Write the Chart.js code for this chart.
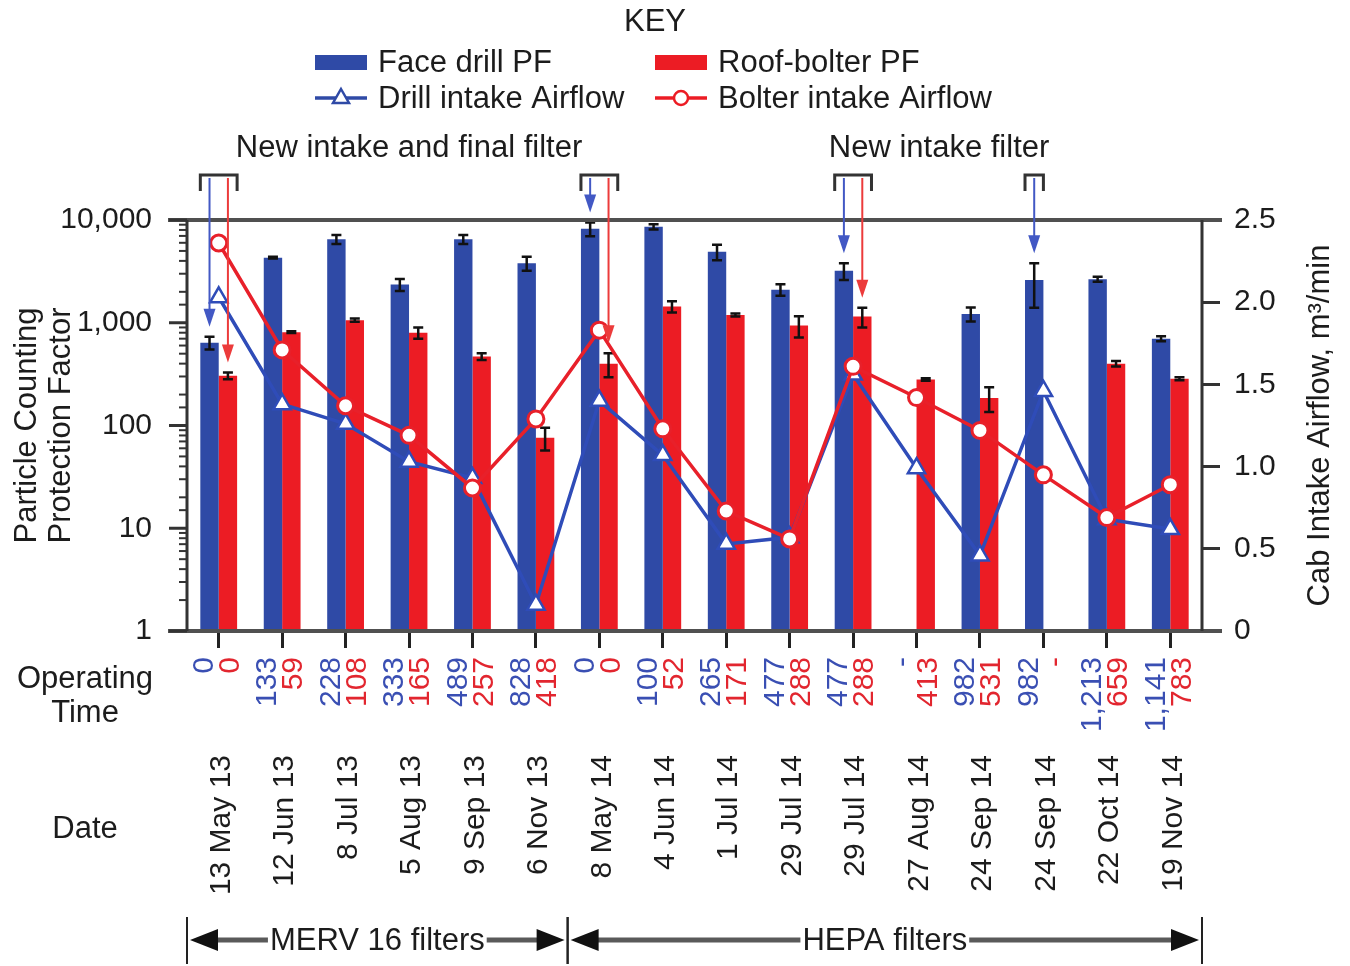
<!DOCTYPE html>
<html lang="en">
<head>
  <meta charset="UTF-8">
  <title>Particle Counting Protection Factor</title>
  <script src="https://cdn.jsdelivr.net/npm/chart.js"></script>
  <style>
    html, body { margin: 0; padding: 0; background: #fff; }
    #wrap { width: 1350px; height: 966px; position: relative; }
  </style>
</head>
<body>
  <div id="wrap"><canvas id="grafico"></canvas></div>

  <script>
    // Sampling dates and operating hours (drill / bolter)
    const dates = ['13 May 13', '12 Jun 13', '8 Jul 13', '5 Aug 13', '9 Sep 13', '6 Nov 13',
      '8 May 14', '4 Jun 14', '1 Jul 14', '29 Jul 14', '29 Jul 14', '27 Aug 14',
      '24 Sep 14', '24 Sep 14', '22 Oct 14', '19 Nov 14'];
    const drillHours = ['0', '133', '228', '333', '489', '828', '0', '100', '265', '477', '477', '-', '982', '982', '1,213', '1,141'];
    const bolterHours = ['0', '59', '108', '165', '257', '418', '0', '52', '171', '288', '288', '413', '531', '-', '659', '783'];

    // Protection factors (left, log axis) and their error bars
    const drillPF = [640, 4300, 6500, 2350, 6500, 3800, 8200, 8600, 4900, 2100, 3200, null, 1220, 2600, 2650, 700];
    const bolterPF = [305, 810, 1060, 800, 470, 76, 400, 1440, 1190, 940, 1150, 280, 185, null, 400, 285];
    const drillErr = [90, 80, 650, 310, 650, 600, 1250, 500, 850, 270, 600, null, 190, 1200, 150, 40];
    const bolterErr = [23, 15, 40, 100, 35, 19, 105, 180, 40, 220, 250, 8, 50, null, 25, 10];

    // Cab intake airflow, m3/min (right axis)
    const drillAirflow = [2.03, 1.38, 1.26, 1.03, 0.93, 0.16, 1.40, 1.07, 0.53, 0.57, 1.56, 0.99, 0.46, 1.46, 0.68, 0.62];
    const bolterAirflow = [2.36, 1.71, 1.37, 1.19, 0.87, 1.29, 1.83, 1.23, 0.73, 0.56, 1.61, 1.42, 1.22, 0.95, 0.69, 0.89];

    // Filter change annotations
    const drillArrows = [0, 6, 10, 13];
    const bolterArrows = [0, 6, 10];
    const notes = [
      { text: 'New intake and final filter', from: 0, to: 6 },
      { text: 'New intake filter', from: 10, to: 13 }
    ];
    const filterBands = [
      { text: 'MERV 16 filters', from: 0, to: 5 },
      { text: 'HEPA filters', from: 6, to: 15 }
    ];

    const FONT = '"Liberation Sans", Arial, Helvetica, sans-serif';
    const BLUE = '#2f4aa6';
    const RED = '#ec1c24';
    const INK = '#1c1c1c';

    function arrowDown(ctx, x, y0, y1, color) {
      ctx.strokeStyle = color;
      ctx.fillStyle = color;
      ctx.lineWidth = 2;
      ctx.beginPath();
      ctx.moveTo(x, y0);
      ctx.lineTo(x, y1 - 14);
      ctx.stroke();
      ctx.beginPath();
      ctx.moveTo(x - 6, y1 - 18);
      ctx.lineTo(x + 6, y1 - 18);
      ctx.lineTo(x, y1);
      ctx.closePath();
      ctx.fill();
    }

    function arrowHead(ctx, x, y, dir) {
      ctx.fillStyle = '#111';
      ctx.beginPath();
      ctx.moveTo(x, y);
      ctx.lineTo(x + dir * 28, y - 11);
      ctx.lineTo(x + dir * 28, y + 11);
      ctx.closePath();
      ctx.fill();
    }

    const extras = {
      id: 'extras',
      // error bars right after each bar dataset, before the lines
      afterDatasetDraw(chart, args) {
        const ds = chart.data.datasets[args.index];
        if (!ds.errors) return;
        const ctx = chart.ctx;
        const y = chart.scales.y;
        ctx.save();
        ctx.strokeStyle = '#111';
        ctx.lineWidth = 2.5;
        args.meta.data.forEach((bar, i) => {
          const v = ds.data[i], e = ds.errors[i];
          if (v == null || e == null) return;
          const yt = y.getPixelForValue(v + e);
          const yb = y.getPixelForValue(v - e);
          ctx.beginPath();
          ctx.moveTo(bar.x, yt); ctx.lineTo(bar.x, yb);
          ctx.moveTo(bar.x - 5, yt); ctx.lineTo(bar.x + 5, yt);
          ctx.moveTo(bar.x - 5, yb); ctx.lineTo(bar.x + 5, yb);
          ctx.stroke();
        });
        ctx.restore();
      },
      afterDraw(chart) {
        const ctx = chart.ctx;
        const area = chart.chartArea;
        const x = chart.scales.x;
        const y = chart.scales.y;
        const drillBars = chart.getDatasetMeta(0).data;
        const bolterBars = chart.getDatasetMeta(1).data;
        ctx.save();

        // frame: top / bottom lines, both axes
        ctx.strokeStyle = '#505050';
        ctx.lineWidth = 4;
        ctx.beginPath();
        ctx.moveTo(area.left - 19, area.top); ctx.lineTo(area.right + 20, area.top);
        ctx.moveTo(area.left - 19, area.bottom); ctx.lineTo(area.right + 20, area.bottom);
        ctx.stroke();
        ctx.strokeStyle = '#333';
        ctx.lineWidth = 3;
        ctx.beginPath();
        ctx.moveTo(area.left, area.top); ctx.lineTo(area.left, area.bottom);
        ctx.moveTo(area.right, area.top); ctx.lineTo(area.right, area.bottom);
        ctx.stroke();

        // log axis ticks (major long, minor short)
        y.ticks.forEach(t => {
          const py = y.getPixelForValue(t.value);
          const major = Math.abs(Math.log10(t.value) % 1) < 1e-9;
          ctx.lineWidth = major ? 3 : 2;
          ctx.beginPath();
          ctx.moveTo(area.left - (major ? 18 : 8), py);
          ctx.lineTo(area.left, py);
          ctx.stroke();
        });

        // right axis title (reads bottom to top)
        ctx.fillStyle = INK;
        ctx.font = `31px ${FONT}`;
        ctx.textAlign = 'center';
        ctx.textBaseline = 'middle';
        ctx.save();
        ctx.translate(1320, (area.top + area.bottom) / 2);
        ctx.rotate(-Math.PI / 2);
        ctx.fillText('Cab Intake Airflow, m\u00b3/min', 0, 0);
        ctx.restore();

        // legend
        ctx.fillText('KEY', 655, 22);
        ctx.textAlign = 'left';
        ctx.fillStyle = BLUE; ctx.fillRect(315, 55, 52, 15);
        ctx.fillStyle = RED; ctx.fillRect(655, 55, 52, 15);
        ctx.lineWidth = 3.5;
        ctx.strokeStyle = BLUE;
        ctx.beginPath(); ctx.moveTo(315, 98); ctx.lineTo(367, 98); ctx.stroke();
        ctx.strokeStyle = RED;
        ctx.beginPath(); ctx.moveTo(655, 98); ctx.lineTo(707, 98); ctx.stroke();
        ctx.fillStyle = '#fff';
        ctx.lineWidth = 2.5;
        ctx.strokeStyle = BLUE;
        ctx.beginPath(); ctx.moveTo(341, 89); ctx.lineTo(349, 103); ctx.lineTo(333, 103); ctx.closePath();
        ctx.fill(); ctx.stroke();
        ctx.strokeStyle = RED;
        ctx.beginPath(); ctx.arc(681, 98, 7, 0, Math.PI * 2); ctx.fill(); ctx.stroke();
        ctx.fillStyle = INK;
        ctx.fillText(chart.data.datasets[0].label, 378, 63);
        ctx.fillText(chart.data.datasets[1].label, 718, 63);
        ctx.fillText(chart.data.datasets[2].label, 378, 99);
        ctx.fillText(chart.data.datasets[3].label, 718, 99);

        // brackets + arrows for filter changes
        const groups = [...new Set([...drillArrows, ...bolterArrows])];
        const bracketSpan = {};
        groups.forEach(i => {
          const hasD = drillArrows.includes(i), hasB = bolterArrows.includes(i);
          const l = hasD ? drillBars[i] : bolterBars[i];
          const r = hasB ? bolterBars[i] : drillBars[i];
          const x0 = l.x - l.width / 2, x1 = r.x + r.width / 2;
          bracketSpan[i] = [x0, x1];
          ctx.strokeStyle = '#333';
          ctx.lineWidth = 3;
          ctx.beginPath();
          ctx.moveTo(x0, 191); ctx.lineTo(x0, 175); ctx.lineTo(x1, 175); ctx.lineTo(x1, 191);
          ctx.stroke();
        });
        drillArrows.forEach(i => {
          const tip = y.getPixelForValue(drillPF[i] + drillErr[i]) - 10;
          arrowDown(ctx, drillBars[i].x, 178, tip, '#4258c4');
        });
        bolterArrows.forEach(i => {
          const tip = y.getPixelForValue(bolterPF[i] + bolterErr[i]) - 10;
          arrowDown(ctx, bolterBars[i].x, 178, tip, '#ec3b3b');
        });
        ctx.fillStyle = INK;
        ctx.textAlign = 'center';
        notes.forEach(n => {
          const cx = (bracketSpan[n.from][0] + bracketSpan[n.to][1]) / 2;
          ctx.fillText(n.text, cx, 148);
        });

        // operating time and date labels (rotated)
        ctx.font = `30px ${FONT}`;
        ctx.textAlign = 'right';
        dates.forEach((d, i) => {
          const px = x.getPixelForValue(i);
          [[drillHours[i], px - 14, 657, '#3a4fb3'], [bolterHours[i], px + 12, 657, '#e2262f'], [d, px + 3, 755, INK]]
            .forEach(([txt, tx, ty, col]) => {
              ctx.save();
              ctx.translate(tx, ty);
              ctx.rotate(-Math.PI / 2);
              ctx.fillStyle = col;
              ctx.fillText(txt, 0, 0);
              ctx.restore();
            });
        });
        ctx.font = `31px ${FONT}`;
        ctx.textAlign = 'center';
        ctx.fillStyle = INK;
        ctx.fillText('Operating', 85, 679);
        ctx.fillText('Time', 85, 713);
        ctx.fillText('Date', 85, 829);

        // filter bands under the dates
        const edge = (i, side) => {
          if (i === 0 && side < 0) return area.left;
          if (i === dates.length - 1 && side > 0) return area.right;
          return (x.getPixelForValue(i) + x.getPixelForValue(i + side)) / 2;
        };
        const yb = 940;
        filterBands.forEach(b => {
          const x0 = edge(b.from, -1), x1 = edge(b.to, 1);
          ctx.strokeStyle = '#222';
          ctx.lineWidth = 2;
          ctx.beginPath();
          ctx.moveTo(x0, 917); ctx.lineTo(x0, 964);
          ctx.moveTo(x1, 917); ctx.lineTo(x1, 964);
          ctx.stroke();
          ctx.strokeStyle = '#5a5a5a';
          ctx.lineWidth = 5;
          ctx.beginPath();
          ctx.moveTo(x0 + 20, yb); ctx.lineTo(x1 - 20, yb);
          ctx.stroke();
          arrowHead(ctx, x0 + 3, yb, 1);
          arrowHead(ctx, x1 - 3, yb, -1);
          const cx = (x0 + x1) / 2;
          const w = ctx.measureText(b.text).width;
          ctx.fillStyle = '#fff';
          ctx.fillRect(cx - w / 2 - 2, yb - 14, w + 4, 28);
          ctx.fillStyle = INK;
          ctx.fillText(b.text, cx, yb + 1);
        });

        ctx.restore();
      }
    };

    new Chart(document.getElementById('grafico'), {
      type: 'bar',
      data: {
        labels: dates,
        datasets: [
          { label: 'Face drill PF', data: drillPF, errors: drillErr, backgroundColor: BLUE, yAxisID: 'y', order: 2,
            categoryPercentage: 0.58, barPercentage: 1 },
          { label: 'Roof-bolter PF', data: bolterPF, errors: bolterErr, backgroundColor: RED, yAxisID: 'y', order: 2,
            categoryPercentage: 0.58, barPercentage: 1 },
          { type: 'line', label: 'Drill intake Airflow', data: drillAirflow, yAxisID: 'y2', order: 1,
            borderColor: '#2f4cb8', borderWidth: 3.5, pointStyle: 'triangle', pointRadius: 10,
            pointBackgroundColor: '#fff', pointBorderColor: '#2f4cb8', pointBorderWidth: 2.5, tension: 0 },
          { type: 'line', label: 'Bolter intake Airflow', data: bolterAirflow, yAxisID: 'y2', order: 0,
            borderColor: '#e8202a', borderWidth: 3.5, pointStyle: 'circle', pointRadius: 8,
            pointBackgroundColor: '#fff', pointBorderColor: '#e8202a', pointBorderWidth: 3, tension: 0 }
        ]
      },
      plugins: [extras],
      options: {
        responsive: true,
        maintainAspectRatio: false,
        animation: false,
        layout: { padding: { top: 220, left: 0, right: 0, bottom: 0 } },
        plugins: {
          legend: { display: false },
          tooltip: { enabled: false }
        },
        scales: {
          x: {
            ticks: { display: false },
            grid: { drawOnChartArea: false, offset: false, tickLength: 17, lineWidth: 3, color: '#222' },
            border: { display: false },
            afterFit: s => { s.height = 335; }
          },
          y: {
            type: 'logarithmic',
            position: 'left',
            min: 1,
            max: 10000,
            grid: { display: false },
            border: { display: false },
            ticks: {
              autoSkip: false,
              padding: 27,
              color: INK,
              font: { family: FONT, size: 30 },
              callback: v => (Math.abs(Math.log10(v) % 1) < 1e-9 ? v.toLocaleString('en-US') : '')
            },
            title: {
              display: true,
              text: ['Particle Counting', 'Protection Factor'],
              color: INK,
              font: { family: FONT, size: 31, lineHeight: 1.08 },
              padding: { top: 11, bottom: 0 }
            },
            afterFit: s => { s.width = 187; }
          },
          y2: {
            type: 'linear',
            position: 'right',
            min: 0,
            max: 2.5,
            grid: { drawOnChartArea: false, tickLength: 18, lineWidth: 3, color: '#333' },
            border: { display: false },
            ticks: {
              stepSize: 0.5,
              padding: 14,
              color: INK,
              font: { family: FONT, size: 30 },
              callback: v => (v === 0 ? '0' : v.toFixed(1))
            },
            afterFit: s => { s.width = 148; }
          }
        }
      }
    });
  </script>
</body>
</html>
